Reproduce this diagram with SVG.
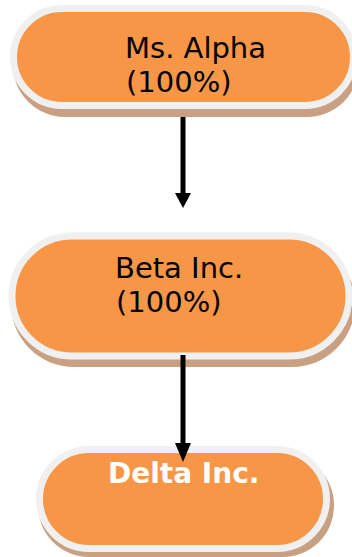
<svg xmlns="http://www.w3.org/2000/svg" width="352" height="557" viewBox="0 0 352 557">
<defs>
<style>
.shadow{fill:#c9a182;}
.pill{fill:#f79646;stroke:#f0f0f0;stroke-width:7;}
.t{font-family:"DejaVu Sans",Verdana,sans-serif;font-size:29px;fill:#000;}
.tb{font-family:"DejaVu Sans",Verdana,sans-serif;font-size:28px;font-weight:bold;fill:#fff;}
.conn{stroke:#000;stroke-width:5;fill:none;}
</style>
</defs>
<rect width="352" height="557" fill="#fff"/>
<g id="node-alpha">
<rect class="shadow" x="13" y="13" width="346" height="104" rx="52"/>
<rect class="pill" x="13.5" y="8.5" width="340" height="97" rx="48.5"/>
<text class="t" x="125" y="58">Ms. Alpha</text>
<text class="t" x="126" y="92">(100%)</text>
</g>
<g id="node-beta">
<rect class="shadow" x="11" y="240" width="344" height="127" rx="63"/>
<rect class="pill" x="12" y="236" width="337" height="120" rx="60"/>
<text class="t" x="115" y="278">Beta Inc.</text>
<text class="t" x="116" y="312">(100%)</text>
</g>
<g id="node-delta">
<rect class="shadow" x="38" y="454" width="296" height="103" rx="51"/>
<rect class="pill" x="39.5" y="449.5" width="287" height="99" rx="49.5"/>
<text class="tb" x="108" y="483">Delta Inc.</text>
</g>
<g id="connectors">
<line class="conn" x1="183" y1="117" x2="183" y2="196"/>
<polygon points="175,193 191,193 183,208" fill="#000"/>
<line class="conn" x1="183" y1="355" x2="183" y2="446"/>
<polygon points="175,443 191,443 183,462" fill="#000"/>
</g>
</svg>
